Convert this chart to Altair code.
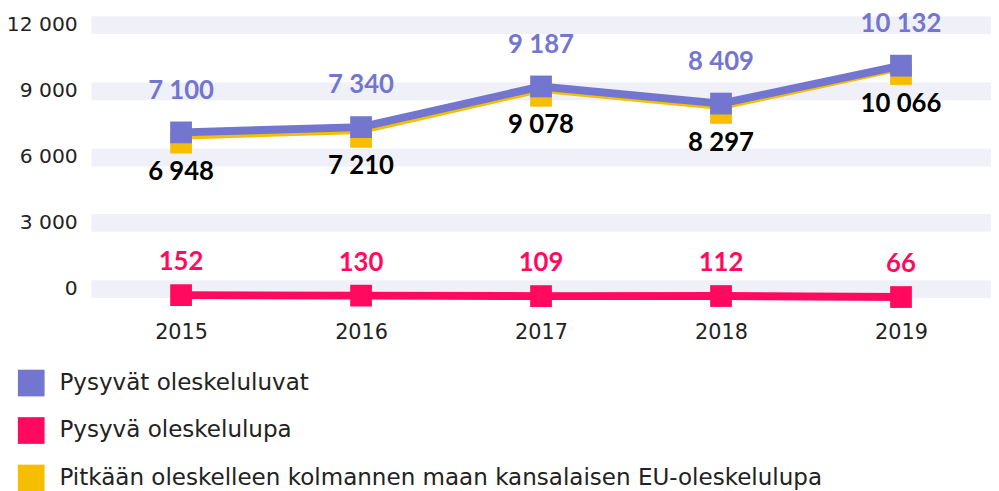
import altair as alt
import pandas as pd

years = ["2015", "2016", "2017", "2018", "2019"]
s_purple = "Pysyvät oleskeluluvat"
s_pink = "Pysyvä oleskelulupa"
s_yellow = "Pitkään oleskelleen kolmannen maan kansalaisen EU-oleskelulupa"
purple_vals = [7100, 7340, 9187, 8409, 10132]
pink_vals = [152, 130, 109, 112, 66]
yellow_vals = [6948, 7210, 9078, 8297, 10066]
series_order = [s_purple, s_pink, s_yellow]
colors = ["#7376CF", "#FF0A5F", "#F5BE00"]

rows = []
for name, vals in [(s_purple, purple_vals), (s_pink, pink_vals), (s_yellow, yellow_vals)]:
    for y, v in zip(years, vals):
        rows.append({"year": y, "value": v, "series": name})
df = pd.DataFrame(rows)

FONT = "DejaVu Sans"
BFONT = "Lato"

base = alt.Chart(df).transform_calculate(
    label="replace(format(datum.value, ','), ',', ' ')"
)

x = alt.X("year:O", scale=alt.Scale(type="point", padding=0.5),
          axis=alt.Axis(title=None, labelAngle=0, domain=False, ticks=False,
                        labelPadding=33, labelFontSize=21, labelColor="#222222",
                        labelFont=FONT))
y = alt.Y("value:Q", scale=alt.Scale(domain=[0, 12000], nice=False),
          axis=alt.Axis(title=None, values=[0, 3000, 6000, 9000, 12000],
                        labelExpr="replace(format(datum.value, ','), ',', ' ')",
                        domain=False, ticks=False, grid=True, gridColor="#F0F0F8",
                        gridWidth=18, labelPadding=14, labelFontSize=20.5,
                        labelColor="#222222", labelFont=FONT))

color = alt.Color("series:N", scale=alt.Scale(domain=series_order, range=colors),
                  legend=alt.Legend(title=None, orient="none", legendX=-74, legendY=349,
                                    direction="vertical", symbolType="square",
                                    symbolSize=729, symbolStrokeWidth=0,
                                    labelFontSize=23.3, labelFont=FONT, labelColor="#222222",
                                    labelLimit=950, rowPadding=21, labelOffset=15,
                                    padding=0))

def f(name):
    return alt.datum.series == name

yl = base.transform_filter(f(s_yellow)).mark_line(color=colors[2], strokeWidth=8).encode(x=x, y=y)
ys = base.transform_filter(f(s_yellow)).mark_square(size=484, opacity=1, yOffset=7).encode(x=x, y=y, color=color)
pl = base.transform_filter(f(s_purple)).mark_line(color=colors[0], strokeWidth=8).encode(x=x, y=y)
ps = base.transform_filter(f(s_purple)).mark_square(size=484, opacity=1).encode(x=x, y=y, color=color)
kl = base.transform_filter(f(s_pink)).mark_line(color=colors[1], strokeWidth=8, yOffset=10).encode(x=x, y=y)
ks = base.transform_filter(f(s_pink)).mark_square(size=484, opacity=1, yOffset=10).encode(x=x, y=y, color=color)

pt = base.transform_filter(f(s_purple)).mark_text(dy=-42, fontSize=26, fontWeight="bold", font=BFONT, color=colors[0]).encode(x=x, y=y, text="label:N")
yt = base.transform_filter(f(s_yellow)).mark_text(dy=37, fontSize=26, fontWeight="bold", font=BFONT, color="#000000").encode(x=x, y=y, text="label:N")
kt = base.transform_filter(f(s_pink)).mark_text(dy=-23, fontSize=26, fontWeight="bold", font=BFONT, color=colors[1]).encode(x=x, y=y, text="label:N")

chart = alt.layer(yl, ys, pl, ps, kl, ks, pt, yt, kt).properties(
    width=910, height=267,
    autosize=alt.AutoSizeParams(type="none"),
    padding={"left": 84, "top": 14, "right": 0, "bottom": 210},
).configure_view(stroke=None)

chart.save("out.html", embed_options={"renderer": "svg", "actions": False})
